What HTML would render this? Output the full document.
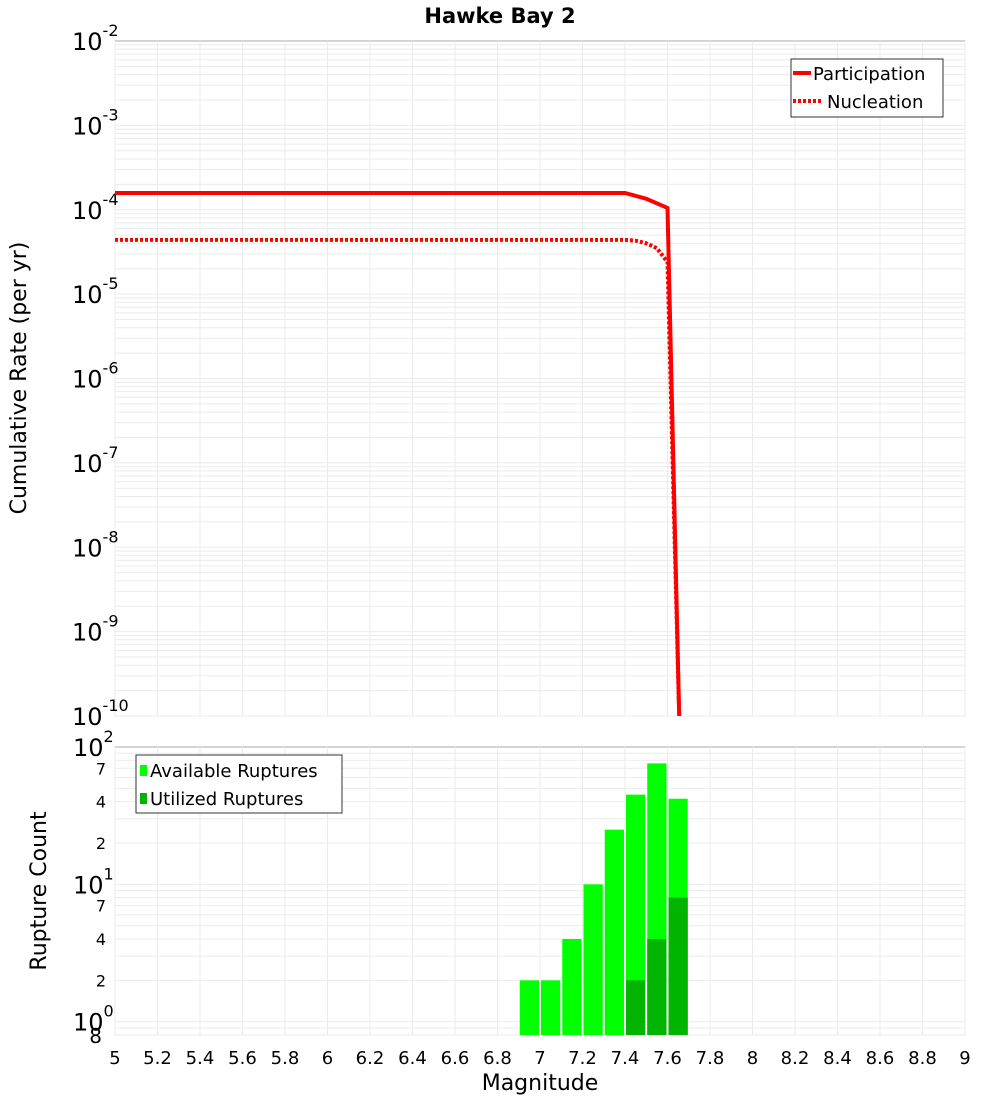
<!DOCTYPE html>
<html><head><meta charset="utf-8"><style>
body{margin:0;background:#fff;font-family:"Liberation Sans","DejaVu Sans",sans-serif}
svg text{font-family:"DejaVu Sans","Liberation Sans",sans-serif}
</style></head><body>
<svg id="c" width="1000" height="1100" xmlns="http://www.w3.org/2000/svg">
<text x="500" y="23" text-anchor="middle" font-size="21" font-weight="bold">Hawke Bay 2</text>
<text transform="translate(26,378) rotate(-90)" text-anchor="middle" font-size="22">Cumulative Rate (per yr)</text>
<text transform="translate(46,891) rotate(-90)" text-anchor="middle" font-size="22">Rupture Count</text>
<text x="540" y="1090" text-anchor="middle" font-size="22">Magnitude</text>
<g id="g"></g>
</svg>
<script>
const partMags=[5,7.4,7.5,7.6,7.655];
const partRates=[1.58e-4,1.58e-4,1.35e-4,1.05e-4,1e-10];
const nuclMags=[5,7.4,7.45,7.5,7.55,7.6,7.655];
const nuclRates=[4.4e-5,4.4e-5,4.3e-5,4.0e-5,3.5e-5,2.4e-5,1e-10];
const binCenters=[6.95,7.05,7.15,7.25,7.35,7.45,7.55,7.65];
const availCounts=[2,2,4,10,25,45,76,42];
const usedCounts=[0,0,0,0,0,2,4,8];
const xTicks=[5,5.2,5.4,5.6,5.8,6,6.2,6.4,6.6,6.8,7,7.2,7.4,7.6,7.8,8,8.2,8.4,8.6,8.8,9];
const topExps=[-2,-3,-4,-5,-6,-7,-8,-9,-10];
const botMinorLabels=[2,4,7,20,40,70,0.8];

const NS="http://www.w3.org/2000/svg";
const g=document.getElementById('g');
const L=115,R=965,T1=41,B1=716,T2=747,B2=1035;
const X=m=>L+(m-5)/4*(R-L);
const Y1=v=>T1+(-2-Math.log10(v))/8*(B1-T1);
const lmin=Math.log10(0.8),lmax=2;
const Y2=v=>B2-(Math.log10(v)-lmin)/(lmax-lmin)*(B2-T2);
function el(t,a,p){const e=document.createElementNS(NS,t);for(const k in a)e.setAttribute(k,a[k]);(p||g).appendChild(e);return e;}

// frames
const f1=el('rect',{x:L,y:T1,width:R-L,height:B1-T1,fill:'#fff',stroke:'#aaa'});


const f2=el('rect',{x:L,y:T2,width:R-L,height:B2-T2,fill:'#fff',stroke:'#aaa'});



// grids
for(let e=-10;e<-2;e++)for(let k=1;k<10;k++){const y=Y1(k*Math.pow(10,e));const ln=el('line',{x1:L,x2:R,y1:y,y2:y,stroke:'#ebebeb'});}
for(const v of [0.8,0.9,1,2,3,4,5,6,7,8,9,10,20,30,40,50,60,70,80,90]){const y=Y2(v);const ln=el('line',{x1:L,x2:R,y1:y,y2:y,stroke:'#ebebeb'});}
xTicks.forEach(m=>{const x=X(m);
 const a=el('line',{x1:x,x2:x,y1:T1,y2:B1,stroke:'#ebebeb'});
 const b=el('line',{x1:x,x2:x,y1:T2,y2:B2,stroke:'#ebebeb'});
 const t=el('text',{x:x,y:1064,'text-anchor':'middle','font-size':18});t.textContent=String(m);
 });

// top y labels
topExps.forEach(e=>{const y=Y1(Math.pow(10,e));
 const t=el('text',{x:72,y:y+9,'font-size':24});t.textContent='10';
 
 const s=el('tspan',{dy:-14,'font-size':16},t);s.textContent=String(e);});
// bottom major
[[100,'2'],[10,'1'],[1,'0']].forEach(([v,e])=>{const y=Y2(v);
 const t=el('text',{x:73,y:y+9,'font-size':24});t.textContent='10';
 
 const s=el('tspan',{dy:-14,'font-size':16},t);s.textContent=e;});
botMinorLabels.forEach(v=>{const y=Y2(v);
 const lbl=v<1?String(Math.round(v*10)):String(v<10?v:v/10);
 const t=el('text',{x:v<1?102:106,y:y+(v<1?8:6),'text-anchor':'end','font-size':v<1?20:16});t.textContent=lbl;
 });

// bars
binCenters.forEach((c,i)=>{const x0=X(c-0.05)+1,w=X(c+0.05)-X(c-0.05)-2;
 const y=Y2(availCounts[i]);
 const b=el('rect',{x:x0,y:y,width:w,height:B2-y,fill:'#00ff00'});
 
 if(usedCounts[i]>0){const yu=Y2(usedCounts[i]);
  const u=el('rect',{x:x0,y:yu,width:w,height:B2-yu,fill:'#00b400'});
  }});

// lines
const clip=el('clipPath',{id:'cp'});el('rect',{x:L,y:T1,width:R-L,height:B1-T1+2},clip);
const pp=el('polyline',{points:partMags.map((m,i)=>X(m)+','+Y1(partRates[i])).join(' '),fill:'none',stroke:'#f00','stroke-width':4,'clip-path':'url(#cp)'});

const np=el('polyline',{points:nuclMags.map((m,i)=>X(m)+','+Y1(nuclRates[i])).join(' '),fill:'none',stroke:'#f00','stroke-width':4,'stroke-dasharray':'3,2','clip-path':'url(#cp)'});


// legends
const lg=el('g',{});
el('rect',{x:791,y:59,width:152,height:58,fill:'#fff',stroke:'#333'},lg);
el('line',{x1:793,x2:811,y1:73,y2:73,stroke:'#f00','stroke-width':4},lg);
let t=el('text',{x:813,y:80,'font-size':18},lg);t.textContent='Participation';
el('line',{x1:793,x2:821,y1:101,y2:101,stroke:'#f00','stroke-width':4,'stroke-dasharray':'3,2'},lg);
t=el('text',{x:827,y:108,'font-size':18},lg);t.textContent='Nucleation';
const lg2=el('g',{});
el('rect',{x:136,y:755,width:206,height:58,fill:'#fff',stroke:'#333'},lg2);
el('rect',{x:140,y:765,width:7,height:11,fill:'#00ff00'},lg2);
t=el('text',{x:150,y:777,'font-size':18},lg2);t.textContent='Available Ruptures';
el('rect',{x:140,y:793,width:7,height:11,fill:'#00b400'},lg2);
t=el('text',{x:150,y:805,'font-size':18},lg2);t.textContent='Utilized Ruptures';
</script>
</body></html>
